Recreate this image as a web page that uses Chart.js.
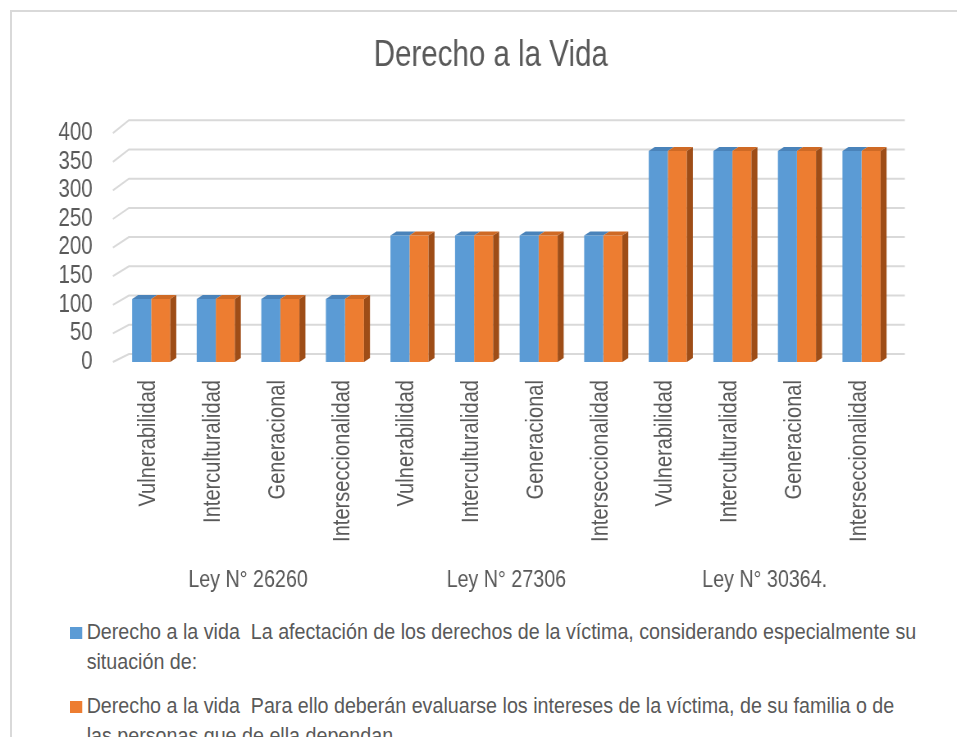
<!DOCTYPE html>
<html lang="es">
<head>
    <meta charset="UTF-8">
    <title>Derecho a la Vida</title>
    <script src="https://cdn.jsdelivr.net/npm/chart.js"></script>
    <style>
        body {
            margin: 0;
            overflow: hidden;
            background-color: #ffffff;
            font-family: 'Liberation Sans', Arial, sans-serif;
        }

        #frame {
            position: absolute;
            left: 10px;
            top: 10px;
            width: 960px;
            height: 740px;
            border-top: 2px solid #d9d9d9;
            border-left: 2px solid #d9d9d9;
        }

        /* el original usa una letra estrecha: se comprime todo en horizontal */
        #wrap {
            position: absolute;
            left: 0;
            top: 0;
            transform: scaleX(0.82);
            transform-origin: 0 0;
        }

        #legend {
            position: absolute;
            left: 70px;
            top: 617px;
            width: 970px;
            color: #595959;
            font-size: 22.5px;
            line-height: 30px;
            white-space: pre-wrap;
            transform: scaleX(0.875);
            transform-origin: 0 0;
        }

        .item {
            position: relative;
            padding-left: 19px;
            margin-bottom: 14px;
        }

        .box {
            position: absolute;
            left: 0;
            top: 10px;
            width: 14px;
            height: 12px;
        }
    </style>
</head>
<body>
    <div id="frame"></div>
    <div id="wrap">
        <canvas id="chart" width="1167" height="602"></canvas>
    </div>
    <div id="legend"></div>

    <script>
        // datos
        const CATEGORIES = [
            'Vulnerabilidad', 'Interculturalidad', 'Generacional', 'Interseccionalidad',
            'Vulnerabilidad', 'Interculturalidad', 'Generacional', 'Interseccionalidad',
            'Vulnerabilidad', 'Interculturalidad', 'Generacional', 'Interseccionalidad'
        ];
        const GROUPS = ['Ley N° 26260', 'Ley N° 27306', 'Ley N° 30364.'];
        const SERIES_LABELS = [
            'Derecho a la vida  La afectación de los derechos de la víctima, considerando especialmente su situación de:',
            'Derecho a la vida  Para ello deberán evaluarse los intereses de la víctima, de su familia o de las personas que de ella dependan.'
        ];
        const SERIE_1 = [110, 110, 110, 110, 221, 221, 221, 221, 369, 369, 369, 369];
        const SERIE_2 = [110, 110, 110, 110, 221, 221, 221, 221, 369, 369, 369, 369];
        const Y_MIN = 0;
        const Y_MAX = 400;
        const Y_STEP = 50;

        const K = 0.82;   // compresion horizontal del lienzo
        const FONT = "'Liberation Sans', Arial, sans-serif";
        const TEXT = '#595959';
        const FRONT = ['#5b9bd5', '#ed7d31'];
        const TOP = ['#4a83ba', '#cf6a25'];
        const SIDE = ['#41719c', '#9e4d17'];
        const DX = 6 / K, DY = 4;

        // rejilla en "perspectiva" (pared del fondo + linea del piso)
        const gridPlugin = {
            id: 'grid3d',
            beforeDatasetsDraw(chart) {
                const ctx = chart.ctx;
                const y = chart.scales.y;
                const area = chart.chartArea;
                ctx.save();
                ctx.strokeStyle = '#d9d9d9';
                ctx.lineWidth = 2;
                y.ticks.forEach(t => {
                    const yf = y.getPixelForValue(t.value);
                    const yb = yf - (8 + 5 * t.value / Y_MAX);
                    ctx.beginPath();
                    ctx.moveTo(area.left - 6 / K, yf);
                    ctx.lineTo(area.left + 10 / K, yb);
                    ctx.lineTo(area.right + 11 / K, yb);
                    ctx.stroke();
                });
                ctx.restore();
            }
        };

        // caras superior y lateral de las columnas
        const barsPlugin = {
            id: 'bars3d',
            afterDatasetsDraw(chart) {
                const ctx = chart.ctx;
                ctx.save();
                chart.data.datasets.forEach((ds, i) => {
                    const meta = chart.getDatasetMeta(i);
                    meta.data.forEach(bar => {
                        const x0 = bar.x - bar.width / 2;
                        const x1 = bar.x + bar.width / 2;
                        const yt = bar.y;
                        const yb = bar.base;

                        ctx.fillStyle = TOP[i];
                        ctx.beginPath();
                        ctx.moveTo(x0, yt);
                        ctx.lineTo(x0 + DX, yt - DY);
                        ctx.lineTo(x1 + DX, yt - DY);
                        ctx.lineTo(x1, yt);
                        ctx.closePath();
                        ctx.fill();

                        if (i === chart.data.datasets.length - 1) {
                            ctx.fillStyle = SIDE[i];
                            ctx.beginPath();
                            ctx.moveTo(x1, yt);
                            ctx.lineTo(x1 + DX, yt - DY);
                            ctx.lineTo(x1 + DX, yb - DY);
                            ctx.lineTo(x1, yb);
                            ctx.closePath();
                            ctx.fill();
                        }
                    });
                });
                ctx.restore();
            }
        };

        // etiquetas verticales: se dibujan aparte para que queden estrechas
        // a lo largo del texto y no a lo ancho
        const labelsPlugin = {
            id: 'vlabels',
            afterDraw(chart) {
                const ctx = chart.ctx;
                const x = chart.scales.x;
                ctx.save();
                ctx.fillStyle = TEXT;
                ctx.font = '24.5px ' + FONT;
                ctx.textAlign = 'right';
                ctx.textBaseline = 'alphabetic';
                CATEGORIES.forEach((txt, i) => {
                    ctx.save();
                    ctx.translate(x.getPixelForTick(i) + 4 / K, x.top + 18);
                    ctx.scale(1 / K, K);
                    ctx.rotate(-Math.PI / 2);
                    ctx.fillText(txt, 0, 0);
                    ctx.restore();
                });
                ctx.restore();
            }
        };

        const chart = new Chart(document.getElementById('chart'), {
            type: 'bar',
            data: {
                labels: CATEGORIES,
                datasets: [
                    { label: SERIES_LABELS[0], data: SERIE_1, backgroundColor: FRONT[0] },
                    { label: SERIES_LABELS[1], data: SERIE_2, backgroundColor: FRONT[1] }
                ]
            },
            options: {
                responsive: false,
                animation: false,
                devicePixelRatio: 1,
                layout: { padding: { left: 30, right: 0, top: 0, bottom: 0 } },
                datasets: {
                    bar: { categoryPercentage: 0.59, barPercentage: 1 }
                },
                plugins: {
                    legend: { display: false },
                    tooltip: { enabled: false },
                    title: {
                        display: true,
                        text: 'Derecho a la Vida',
                        color: TEXT,
                        font: { family: FONT, size: 36, weight: 'normal' },
                        padding: { top: 34, bottom: 56 }
                    }
                },
                scales: {
                    y: {
                        min: Y_MIN,
                        max: Y_MAX,
                        grid: { display: false, drawTicks: false },
                        border: { display: false },
                        ticks: {
                            stepSize: Y_STEP,
                            autoSkip: false,
                            padding: 32,
                            color: TEXT,
                            font: { family: FONT, size: 25 }
                        },
                        afterFit(s) { s.width = 115; }
                    },
                    // eje vacio a la derecha: solo reserva el margen derecho
                    yRight: {
                        position: 'right',
                        min: Y_MIN,
                        max: Y_MAX,
                        grid: { display: false, drawTicks: false },
                        border: { display: false },
                        ticks: { display: false },
                        afterFit(s) { s.width = 77; }
                    },
                    x: {
                        weight: 0,
                        grid: { display: false, drawTicks: false },
                        border: { display: false },
                        ticks: { display: false },
                        afterFit(s) { s.height = 200; }
                    },
                    x2: {
                        type: 'category',
                        position: 'bottom',
                        weight: 1,
                        labels: GROUPS,
                        offset: true,
                        grid: { display: false, drawTicks: false },
                        border: { display: false },
                        ticks: {
                            padding: 4,
                            color: TEXT,
                            font: { family: FONT, size: 24 }
                        },
                        afterFit(s) { s.height = 40; }
                    }
                }
            },
            plugins: [gridPlugin, barsPlugin, labelsPlugin]
        });

        // leyenda en HTML para poder partir el texto en dos lineas
        const legend = document.getElementById('legend');
        chart.data.datasets.forEach(ds => {
            const item = document.createElement('div');
            item.className = 'item';
            item.innerHTML = '<span class="box" style="background:' + ds.backgroundColor + '"></span>' + ds.label;
            legend.appendChild(item);
        });
    </script>
</body>
</html>
